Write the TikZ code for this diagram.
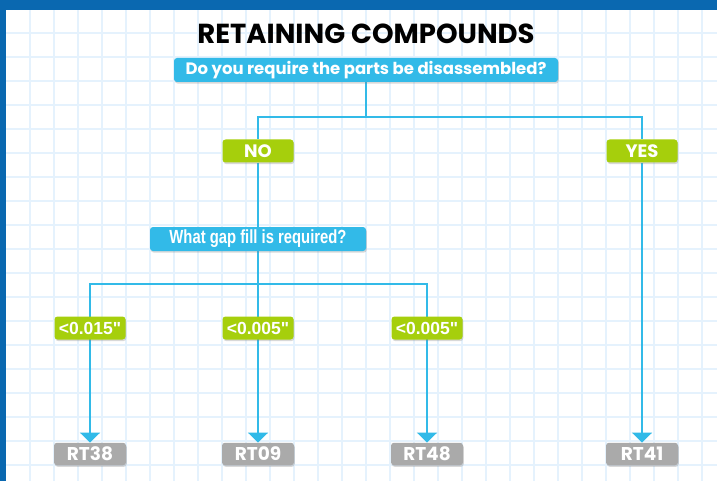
\documentclass[tikz,border=0pt]{standalone}
\usepackage{fontspec}
\setmainfont{Poppins}
\newfontfamily\numfont{Liberation Sans}
\newfontfamily\narrowfont{Liberation Sans}[FakeStretch=0.78]
\usetikzlibrary{arrows.meta, shadows, backgrounds}

\definecolor{frameblue}{RGB}{10,104,176}
\definecolor{skyblue}{RGB}{50,186,232}
\definecolor{limegreen}{RGB}{166,207,12}
\definecolor{tilegrey}{RGB}{170,170,170}
\definecolor{gridblue}{RGB}{229,242,253}

\tikzset{
  box/.style={rounded corners=3pt, text=white, inner sep=0pt,
    drop shadow={shadow xshift=0.8pt, shadow yshift=-1.6pt, opacity=0.3}},
  question/.style={box, fill=skyblue, minimum height=24pt},
  answer/.style={box, fill=limegreen, minimum width=71pt, minimum height=23pt},
  product/.style={box, fill=tilegrey, minimum width=72pt, minimum height=22.5pt,
    font=\fontsize{18.5}{20}\selectfont\bfseries},
  link/.style={draw=skyblue, line width=2pt},
  tolink/.style={link, -{Triangle[width=20pt,length=10pt]}},
  gridline/.style={draw=gridblue, line width=1.3pt},
}

\begin{document}
\begin{tikzpicture}[x=1pt,y=-1pt]
\useasboundingbox (0,0) rectangle (717,481);
\begin{scope}[on background layer]
\fill[white] (0,0) rectangle (717,481);
\foreach \gx in {30,54,...,702} \draw[gridline] (\gx,0) -- (\gx,481);
\foreach \gy in {33,57,...,465} \draw[gridline] (0,\gy) -- (717,\gy);
\fill[frameblue] (0,0) rectangle (717,10);
\fill[frameblue] (0,0) rectangle (6,481);
\end{scope}

\node (title) at (366,33.5) {\fontsize{27.5}{30}\selectfont\bfseries RETAINING COMPOUNDS};

\node[question, minimum width=384pt, font=\fontsize{16.5}{18}\selectfont\bfseries] (q1) at (366,70) {Do you require the parts be disassembled?};
\node[answer, font=\fontsize{18}{20}\selectfont\bfseries] (no) at (258,151) {NO};
\node[answer, font=\fontsize{18}{20}\selectfont\bfseries] (yes) at (642,151) {YES};
\node[question, minimum width=216pt, font=\fontsize{19}{21}\selectfont\narrowfont\bfseries] (q2) at (258,239) {What gap fill is required?};

\node[answer, font=\fontsize{17.5}{19}\selectfont\numfont\bfseries] (lt015) at (90,328) {<0.015"};
\node[answer, font=\fontsize{17.5}{19}\selectfont\numfont\bfseries] (lt005a) at (258,328) {<0.005"};
\node[answer, font=\fontsize{17.5}{19}\selectfont\numfont\bfseries] (lt005b) at (427,328) {<0.005"};

\node[product] (rt38) at (90,454) {RT38};
\node[product] (rt09) at (258,454) {RT09};
\node[product] (rt48) at (427,454) {RT48};
\node[product] (rt41) at (642,454) {RT41};

\coordinate (fork1) at (366,117);
\coordinate (fork2) at (258,284);

\begin{scope}[on background layer]
\draw[link] (q1) -- (fork1);
\draw[link] (fork1) -| (no);
\draw[link] (fork1) -| (yes);
\draw[link] (no) -- (q2);
\draw[link] (q2) -- (fork2);
\draw[tolink] (fork2) -| (rt38);
\draw[tolink] (fork2) -- (rt09);
\draw[tolink] (fork2) -| (rt48);
\draw[tolink] (yes) -- (rt41);
\end{scope}
\end{tikzpicture}
\end{document}
